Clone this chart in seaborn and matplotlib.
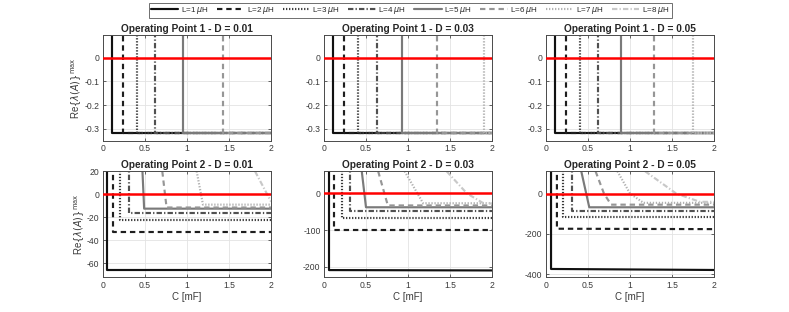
import numpy as np
import pandas as pd
import seaborn as sns
import matplotlib
matplotlib.use("Agg")
import matplotlib.pyplot as plt
from matplotlib.lines import Line2D

# ==========================================
# DATA
# ==========================================

inductances = [1, 2, 3, 4, 5, 6, 7, 8]
duty_cycles = [0.01, 0.03, 0.05]

# operating point 1: capacitance [mF] where Re{lambda} drops to the floor
# (None = outside the plotted range)
op1_c_d001 = [0.107, 0.235, 0.41, 0.62, 0.95, 1.425, None, None]
op1_c_d003 = [0.107, 0.24, 0.40, 0.63, 0.93, 1.34, 1.91, None]
op1_c_d005 = [0.107, 0.24, 0.40, 0.62, 0.895, 1.28, 1.75, None]
op1_floor = -0.32
op1_above = 1.0

# operating point 2: C [mF] / Re{lambda} points of each curve
op2_c_d001 = [
    [0.05, 0.05, 2.0],
    [0.115, 0.115, 2.0],
    [0.20, 0.20, 2.0],
    [0.31, 0.31, 2.0],
    [0.47, 0.49, 2.0],
    [0.706, 0.757, 2.0],
    [1.115, 1.19, 2.0],
    [1.81, 1.954, 2.0],
]
op2_re_d001 = [
    [1000, -66, -66],
    [1000, -33, -33],
    [1000, -22, -22],
    [1000, -16, -16],
    [20, -12.5, -12.5],
    [20, -11.5, -11.5],
    [20, -9, -9],
    [20, 0, -6.3],
]

op2_c_d003 = [
    [0.06, 0.06, 2.0],
    [0.12, 0.12, 2.0],
    [0.21, 0.21, 2.0],
    [0.31, 0.31, 2.0],
    [0.45, 0.50, 2.0],
    [0.645, 0.76, 2.0],
    [0.96, 1.18, 2.0],
    [1.46, 1.70, 1.89, 2.0],
]
op2_re_d003 = [
    [2000, -209, -210],
    [2000, -101, -101],
    [2000, -67, -67],
    [2000, -49, -49],
    [60, -38, -38],
    [60, -33, -33],
    [60, -27, -27],
    [60, 0, -26, -28],
]

op2_c_d005 = [
    [0.06, 0.06, 2.0],
    [0.13, 0.13, 2.0],
    [0.20, 0.20, 2.0],
    [0.31, 0.31, 2.0],
    [0.42, 0.515, 2.0],
    [0.59, 0.69, 0.775, 2.0],
    [0.85, 1.0, 1.16, 2.0],
    [1.18, 1.55, 1.83, 2.0],
]
op2_re_d005 = [
    [5000, -373, -378],
    [5000, -174, -176],
    [5000, -116, -116],
    [5000, -86, -86],
    [110, -68, -68],
    [110, 0, -55, -55],
    [110, 0, -46, -46],
    [110, 0, -41, -41],
]

# ==========================================
# STYLE
# ==========================================

sns.set_style("ticks")
plt.rcParams["font.family"] = ["Liberation Sans", "DejaVu Sans"]
plt.rcParams["mathtext.fontset"] = "dejavusans"
plt.rcParams["axes.unicode_minus"] = False
plt.rcParams["xtick.direction"] = "in"
plt.rcParams["ytick.direction"] = "in"

dash = (0, (2.5, 1.8))
dot = (0, (0.6, 0.8))
dashdot = (0, (2.5, 1.0, 0.6, 1.0))
line_styles = ["-", dash, dot, dashdot, "-", dash, dot, dashdot]
line_colors = ["#111111", "#1e1e1e", "#383838", "#505050",
               "#7a7a7a", "#969696", "#b0b0b0", "#c8c8c8"]
line_width = 1.55
axis_color = "#4a4a4a"

fig = plt.figure(figsize=(7.89, 3.12), dpi=100)

col_x = [0.1305, 0.4106, 0.692]
ax_w = 0.213
row_y = [0.548, 0.112]
ax_h = 0.339

op1_steps = [op1_c_d001, op1_c_d003, op1_c_d005]
op2_cs = [op2_c_d001, op2_c_d003, op2_c_d005]
op2_res = [op2_re_d001, op2_re_d003, op2_re_d005]

op2_ylims = [(-72, 20), (-228, 60), (-413, 110)]
op2_yticks = [[-60, -40, -20, 0, 20], [-200, -100, 0], [-400, -200, 0]]


def style_axes(ax):
    ax.set_xlim(0, 2)
    ax.set_xticks([0, 0.5, 1, 1.5, 2])
    ax.set_xticklabels(["0", "0.5", "1", "1.5", "2"])
    ax.grid(True, color="#e3e3e3", lw=0.6)
    ax.set_axisbelow(True)
    for s in ax.spines.values():
        s.set_visible(True)
        s.set_color(axis_color)
        s.set_linewidth(0.7)
    ax.tick_params(which="both", top=True, right=True, length=2.5,
                   width=0.6, color=axis_color, labelsize=6.2,
                   labelcolor="#3a3a3a", pad=2.5)


for j, D in enumerate(duty_cycles):
    # ---------------- operating point 1 ----------------
    ax = fig.add_axes([col_x[j], row_y[0], ax_w, ax_h])
    for k, c in enumerate(op1_steps[j]):
        if c is None:
            continue
        df = pd.DataFrame({"C": [c, c, 2.0],
                           "Re": [op1_above, op1_floor, op1_floor]})
        sns.lineplot(data=df, x="C", y="Re", ax=ax, sort=False,
                     estimator=None, color=line_colors[k],
                     linestyle=line_styles[k], lw=line_width)
    ax.axhline(0, color="red", lw=1.8, zorder=5)
    style_axes(ax)
    ax.set_ylim(-0.352, 0.095)
    ax.set_yticks([-0.3, -0.2, -0.1, 0])
    ax.set_yticklabels(["-0.3", "-0.2", "-0.1", "0"])
    ax.set_xlabel("")
    ax.set_ylabel("")
    ax.set_title(f"Operating Point 1 - D = {D}", fontsize=7.3,
                 fontweight="bold", pad=2.5)
    if j == 0:
        ax.set_ylabel(r"Re$\{\lambda(A)\}^{\mathrm{max}}$", fontsize=7,
                      color="#3a3a3a", labelpad=0)

    # ---------------- operating point 2 ----------------
    ax = fig.add_axes([col_x[j], row_y[1], ax_w, ax_h])
    for k in range(len(inductances)):
        df = pd.DataFrame({"C": op2_cs[j][k], "Re": op2_res[j][k]})
        sns.lineplot(data=df, x="C", y="Re", ax=ax, sort=False,
                     estimator=None, color=line_colors[k],
                     linestyle=line_styles[k], lw=line_width)
    ax.axhline(0, color="red", lw=1.8, zorder=5)
    style_axes(ax)
    ax.set_ylim(*op2_ylims[j])
    ax.set_yticks(op2_yticks[j])
    ax.set_yticklabels([str(t) for t in op2_yticks[j]])
    ax.set_xlabel("C [mF]", fontsize=7, color="#3a3a3a", labelpad=1.5)
    ax.set_ylabel("")
    ax.set_title(f"Operating Point 2 - D = {D}", fontsize=7.3,
                 fontweight="bold", pad=2.5)
    if j == 0:
        ax.set_ylabel(r"Re$\{\lambda(A)\}^{\mathrm{max}}$", fontsize=7,
                      color="#3a3a3a", labelpad=0)

# ==========================================
# LEGEND
# ==========================================

handles = [
    Line2D([], [], color=line_colors[k], linestyle=line_styles[k],
           lw=line_width, label=f"L={L} $\\mu$H")
    for k, L in enumerate(inductances)
]

leg = fig.legend(handles=handles, loc="upper center",
                 bbox_to_anchor=(0.52, 1.003), ncol=8, fontsize=5.8,
                 frameon=True, fancybox=False, handlelength=3.4,
                 handletextpad=0.3, columnspacing=1.0, borderpad=0.25)
leg.get_frame().set_edgecolor(axis_color)
leg.get_frame().set_linewidth(0.7)

plt.savefig("out.png", dpi=100)
